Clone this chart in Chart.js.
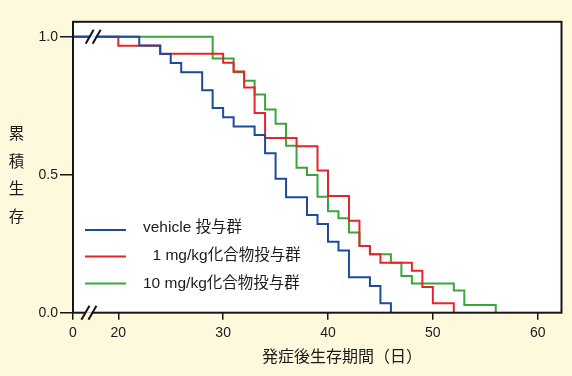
<!DOCTYPE html>
<html><head><meta charset="utf-8">
<script src="https://cdn.jsdelivr.net/npm/chart.js@4/dist/chart.umd.min.js"></script>
<style>html,body{margin:0;padding:0;background:#fef9dc;}#wrap{width:572px;height:376px;}</style>
</head><body><div id="wrap"><canvas id="c" width="572" height="376"></canvas></div>
<script>
// ---- data ----
const seriesNames = ['vehicle 投与群', '1 mg/kg化合物投与群', '10 mg/kg化合物投与群'];
const vehicleDays = [0, 22, 24, 25, 26, 28, 29, 30, 31, 33, 34, 35, 36, 38, 39, 40, 41, 42, 44, 45, 46];
const vehicleSurv = [1, 0.968, 0.937, 0.905, 0.871, 0.806, 0.742, 0.708, 0.675, 0.644, 0.578, 0.485, 0.418, 0.354, 0.321, 0.257, 0.225, 0.128, 0.097, 0.034, 0];
const dose1Days = [0, 20, 24, 30, 31, 32, 33, 34, 37, 39, 40, 42, 43, 44, 45, 48, 49, 50, 52];
const dose1Surv = [1, 0.967, 0.938, 0.906, 0.874, 0.816, 0.724, 0.633, 0.603, 0.515, 0.423, 0.333, 0.242, 0.212, 0.181, 0.152, 0.093, 0.034, 0];
const dose10Days = [0, 29, 31, 32, 33, 34, 35, 36, 37, 38, 39, 40, 41, 42, 43, 44, 46, 47, 48, 52, 53, 56];
const dose10Surv = [1, 0.921, 0.871, 0.840, 0.791, 0.736, 0.685, 0.605, 0.525, 0.499, 0.420, 0.368, 0.342, 0.291, 0.242, 0.212, 0.181, 0.133, 0.106, 0.080, 0.028, 0];
const xTickValues = [0, 20, 30, 40, 50, 60];
const xTickLabels = ['0', '20', '30', '40', '50', '60'];
const yTickValues = [0, 0.5, 1.0];
const yTickLabels = ['0.0', '0.5', '1.0'];
const xTitle = '発症後生存期間（日）';
const yTitle = '累積生存';

// ---- style ----
const colors = ['#1d4b9c', '#e3262b', '#3ba53a'];
const BG = '#fef9dc';
const FONT = '"Liberation Sans", Arial, "Noto Sans CJK JP", sans-serif';
const X_MIN = 15.68, X_MAX = 62.27, BREAK_END = 20;
// axis break: everything before 20 collapses onto the axis start
const disp = t => (t < BREAK_END ? X_MIN : t);

const series = [[vehicleDays, vehicleSurv], [dose1Days, dose1Surv], [dose10Days, dose10Surv]];
const datasets = series.map((s, k) => ({
  label: seriesNames[k],
  data: s[0].map((d, i) => ({ x: disp(d), y: s[1][i] })),
  borderColor: colors[k],
  borderWidth: 2,
  pointRadius: 0,
  stepped: 'before',
  fill: false,
  tension: 0
}));

function slashPair(ctx, cx, cy, gapColorTop, gapColorBottom) {
  ctx.save();
  ctx.fillStyle = gapColorTop;
  ctx.fillRect(cx - 3, cy - 2, 6, 2);
  ctx.fillStyle = gapColorBottom;
  ctx.fillRect(cx - 3, cy, 6, 2);
  ctx.strokeStyle = '#111';
  ctx.lineWidth = 2;
  [-3.5, 3.5].forEach(o => {
    ctx.beginPath();
    ctx.moveTo(cx + o - 4, cy + 7);
    ctx.lineTo(cx + o + 4, cy - 7);
    ctx.stroke();
  });
  ctx.restore();
}

const decor = {
  id: 'decor',
  beforeDraw(chart) {
    const { ctx, chartArea: a } = chart;
    ctx.save();
    ctx.fillStyle = BG;
    ctx.fillRect(0, 0, chart.width, chart.height);
    ctx.fillStyle = '#ffffff';
    ctx.fillRect(a.left, a.top, a.right - a.left, a.bottom - a.top);
    ctx.restore();
  },
  afterDraw(chart) {
    const { ctx, chartArea: a, scales } = chart;
    ctx.save();
    ctx.strokeStyle = '#161616';
    ctx.lineWidth = 2;
    ctx.strokeRect(a.left, a.top, a.right - a.left, a.bottom - a.top);
    slashPair(ctx, scales.x.getPixelForValue(17.6), scales.y.getPixelForValue(1), '#fff', '#fff');
    slashPair(ctx, scales.x.getPixelForValue(17.2), a.bottom, '#fff', BG);
    // legend
    const ly = [230, 256.5, 283.5];
    const ty = [228, 255.5, 283.5];
    const lx = [143, 152.5, 143];
    ctx.font = '15.5px ' + FONT;
    ctx.textBaseline = 'middle';
    ctx.textAlign = 'left';
    for (let k = 0; k < 3; k++) {
      ctx.strokeStyle = colors[k];
      ctx.lineWidth = 2;
      ctx.beginPath();
      ctx.moveTo(85, ly[k]);
      ctx.lineTo(126, ly[k]);
      ctx.stroke();
      ctx.fillStyle = '#1a1a1a';
      ctx.fillText(seriesNames[k], lx[k], ty[k]);
    }
    // axis titles
    ctx.font = '16px ' + FONT;
    ctx.fillText(xTitle, 262, 357.5);
    ctx.font = '15.5px ' + FONT;
    ctx.textAlign = 'center';
    Array.from(yTitle).forEach((ch, i) => ctx.fillText(ch, 16.5, 135 + i * 27.5));
    ctx.restore();
  }
};

new Chart(document.getElementById('c'), {
  type: 'line',
  data: { datasets },
  options: {
    responsive: false,
    animation: false,
    devicePixelRatio: 1,
    layout: { padding: { left: 0, right: 10.5, top: 21.8, bottom: 0 } },
    plugins: { legend: { display: false }, tooltip: { enabled: false } },
    scales: {
      x: {
        type: 'linear', min: X_MIN, max: X_MAX,
        afterBuildTicks: s => { s.ticks = xTickValues.map(v => ({ value: disp(v) })); },
        ticks: { callback: (v, i) => xTickLabels[i], autoSkip: false, maxRotation: 0, color: '#1a1a1a', font: { size: 14, family: FONT }, padding: 5 },
        grid: { drawOnChartArea: false, drawTicks: true, tickLength: 7, color: '#161616', lineWidth: 1.5 },
        border: { display: false },
        afterFit: s => { s.height = 63.3; }
      },
      y: {
        type: 'linear', min: 0, max: 1.054,
        afterBuildTicks: s => { s.ticks = yTickValues.map(v => ({ value: v })); },
        ticks: { callback: (v, i) => yTickLabels[i], autoSkip: false, color: '#1a1a1a', font: { size: 14, family: FONT }, padding: 2 },
        grid: { drawOnChartArea: false, drawTicks: true, tickLength: 13, color: '#161616', lineWidth: 1.5 },
        border: { display: false },
        afterFit: s => { s.width = 73; }
      }
    }
  },
  plugins: [decor]
});
</script>
</body></html>
